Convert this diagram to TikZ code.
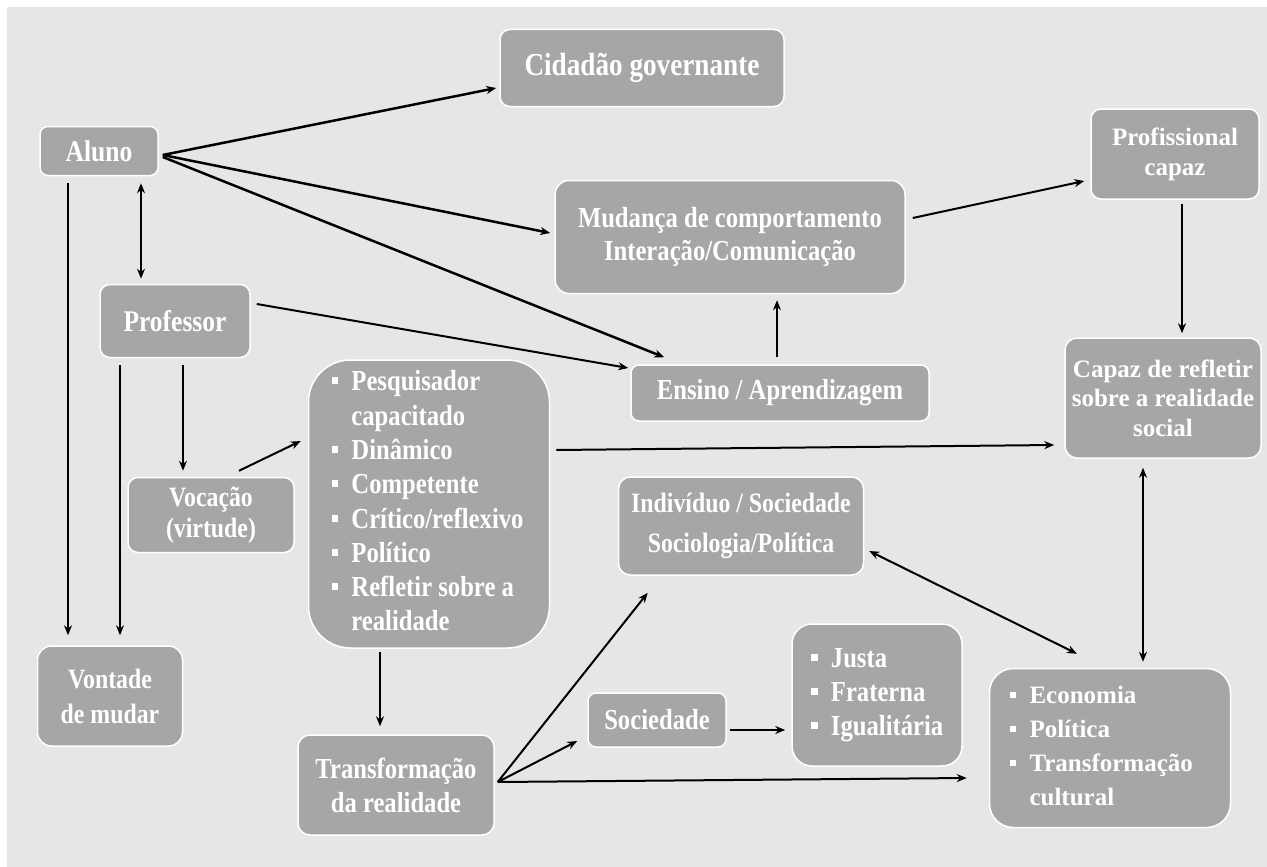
\documentclass[tikz,border=0pt]{standalone}
\usepackage{fontspec}
\setmainfont{Liberation Serif}
\newfontfamily\narrowfont{Liberation Serif}[FakeStretch=0.85]
\usetikzlibrary{arrows.meta}

\definecolor{bggray}{HTML}{E7E6E6}
\definecolor{boxgray}{HTML}{A6A6A6}
\newcommand{\sqb}{\raisebox{0.22em}{\rule{0.24em}{0.24em}}}

\begin{document}
\begin{tikzpicture}[x=1pt,y=-1pt,->,>={Stealth[length=10pt,width=8pt]},line width=2pt,
  box/.style={draw=white,line width=1.5pt,fill=boxgray,text=white,align=center,inner sep=0pt,rounded corners=#1},
  box/.default=10pt,
  narrow/.style 2 args={font=\narrowfont\bfseries\fontsize{#1}{#2}\selectfont},
  wide/.style 2 args={font=\bfseries\fontsize{#1}{#2}\selectfont}]

 % background
 \fill[white] (0,0) rectangle (1267,867);
 \fill[bggray] (7,7) rectangle (1267,867);

 \node[box=8pt,narrow={30}{34},minimum width=118,minimum height=49] (aluno) at (99,151) {Aluno};
 \node[box,narrow={32}{36},minimum width=284,minimum height=77] (cidadao) at (642,68) {Cidadão governante};
 \node[box=14pt,narrow={29}{33},minimum width=350,minimum height=113] (mudanca) at (730,237)
   {Mudança de comportamento\\Interação/Comunicação};
 \node[box,wide={25}{30},minimum width=168,minimum height=90] (prof) at (1175,154) {Profissional\\capaz};
 \node[box,narrow={30}{34},minimum width=150,minimum height=73] (professor) at (175,321) {Professor};
 \node[box=8pt,narrow={29}{33},minimum width=298,minimum height=56] (ensino) at (780,393) {Ensino / Aprendizagem};
 \node[box=12pt,wide={25}{29.5},minimum width=196,minimum height=120] (capaz) at (1163,398)
   {Capaz de refletir\\sobre a realidade\\social};
 \node[box=42pt,narrow={29}{34.3},align=left,text width=195,inner xsep=23,minimum height=288] (pesq) at (429,504)
   {\spaceskip=0pt\xspaceskip=0pt
   \begin{tabular}{@{}l@{\hspace{13pt}}l@{}}
    \sqb & Pesquisador\\ & capacitado\\ \sqb & Dinâmico\\ \sqb & Competente\\
    \sqb & Crítico/reflexivo\\ \sqb & Político\\ \sqb & Refletir sobre a\\ & realidade
   \end{tabular}};
 \node[box,narrow={28}{31},minimum width=166,minimum height=75] (vocacao) at (211,515) {Vocação\\(virtude)};
 \node[box=14pt,narrow={28}{35},minimum width=145,minimum height=100] (vontade) at (110,696) {Vontade\\de mudar};
 \node[box=12pt,narrow={28}{40},minimum width=245,minimum height=98] (individuo) at (741,526)
   {Indivíduo / Sociedade\\Sociologia/Política};
 \node[box=8pt,narrow={29}{33},minimum width=138,minimum height=54] (sociedade) at (657,720) {Sociedade};
 \node[box=20pt,narrow={29}{34},align=left,text width=132,inner xsep=19,minimum height=142] (justa) at (877,695)
   {\begin{tabular}{@{}l@{\hspace{13pt}}l@{}}
    \sqb & Justa\\ \sqb & Fraterna\\ \sqb & Igualitária
   \end{tabular}};
 \node[box=12pt,narrow={29}{34},minimum width=196,minimum height=100] (transf) at (396,785)
   {Transformação\\da realidade};
 \node[box=24pt,wide={25}{34},align=left,text width=201,inner xsep=20,minimum height=159] (economia) at (1110,748)
   {\begin{tabular}{@{}l@{\hspace{14pt}}l@{}}
    \sqb & Economia\\ \sqb & Política\\ \sqb & Transformação\\ & cultural
   \end{tabular}};

 % connectors
 \path[line width=2.5pt]
    ([shift={(4,4)}]aluno.east) edge ([shift={(-3,20)}]cidadao.west)
    ([shift={(4,4)}]aluno.east) edge ([shift={(-4,-4)}]mudanca.west)
    ([shift={(4,6)}]aluno.east) edge ([shift={(34,-7)}]ensino.north west);
 \path
    ([shift={(42,7)}]aluno.south) edge[<->] ([shift={(-34,-5)}]professor.north)
    ([shift={(-31,7)}]aluno.south) edge ([shift={(-42,-10)}]vontade.north)
    ([shift={(-55,7)}]professor.south) edge ([shift={(10,-10)}]vontade.north)
    ([shift={(8,7)}]professor.south) edge ([shift={(-28,-6)}]vocacao.north)
    ([shift={(6,-17)}]professor.east) edge ([shift={(-2,-25)}]ensino.west)
    ([shift={(28,-6)}]vocacao.north) edge ([shift={(-7,-63)}]pesq.west)
    ([shift={(-3,-7)}]ensino.north) edge ([shift={(47,6)}]mudanca.south)
    ([shift={(7,-19)}]mudanca.east) edge ([shift={(-6,27)}]prof.west)
    ([shift={(7,4)}]prof.south) edge ([shift={(19,-4)}]capaz.north)
    ([shift={(6,-54)}]pesq.east) edge ([shift={(-10,47)}]capaz.west)
    ([shift={(-20,9)}]capaz.south) edge[<->] ([shift={(33,-6)}]economia.north)
    ([shift={(5,25)}]individuo.east) edge[<->] ([shift={(-33,-14)}]economia.north)
    ([shift={(-49,3)}]pesq.south) edge ([shift={(-16,-8)}]transf.north)
    ([shift={(3,-3)}]transf.east) edge ([shift={(30,17)}]individuo.south west)
    ([shift={(3,-3)}]transf.east) edge ([shift={(-10,21)}]sociedade.west)
    ([shift={(3,-3)}]transf.east) edge ([shift={(-22,30)}]economia.west)
    ([shift={(3,10)}]sociedade.east) edge ([shift={(-6,35)}]justa.west);

\end{tikzpicture}
\end{document}
